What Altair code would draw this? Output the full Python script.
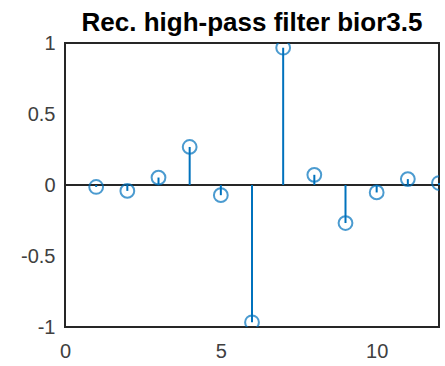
import altair as alt
import pandas as pd

# Reconstruction high-pass filter coefficients of the bior3.5 wavelet
taps = [1, 2, 3, 4, 5, 6, 7, 8, 9, 10, 11, 12]
coeffs = [-0.0138, -0.0414, 0.0525, 0.2679, -0.0718, -0.9667,
          0.9667, 0.0718, -0.2679, -0.0525, 0.0414, 0.0138]
x_ticks = [0, 5, 10]
y_ticks = [-1, -0.5, 0, 0.5, 1]
x_range = [0, 12]
y_range = [-1, 1]

df = pd.DataFrame({"n": taps, "h": coeffs, "zero": [0.0] * len(taps)})
base_df = pd.DataFrame({"x0": [x_range[0]], "x1": [x_range[1]], "y": [0.0]})
box_df = pd.DataFrame({"x0": [x_range[0]], "x1": [x_range[1]],
                       "y0": [y_range[0]], "y1": [y_range[1]]})

BLUE = "#0072BD"
AXIS = "#262626"
FONT = "Liberation Sans"

xs = alt.Scale(domain=x_range, nice=False, zero=False)
ys = alt.Scale(domain=y_range, nice=False)

# plain hyphen for negative tick labels
label_expr = "datum.value < 0 ? '-' + format(-datum.value, '~g') : format(datum.value, '~g')"

x_axis = alt.Axis(values=x_ticks, title=None, grid=False, ticks=False, domain=False,
                  labelFontSize=20, labelColor="#404040", labelFont=FONT,
                  labelPadding=14, labelFlush=False, labelExpr=label_expr)
y_axis = alt.Axis(values=y_ticks, title=None, grid=False, ticks=False, domain=False,
                  labelFontSize=20, labelColor="#404040", labelFont=FONT,
                  labelPadding=10, labelExpr=label_expr)

# axes box
frame = alt.Chart(box_df).mark_rect(fill=None, stroke=AXIS, strokeWidth=2).encode(
    x=alt.X("x0:Q", scale=xs, axis=x_axis),
    x2="x1:Q",
    y=alt.Y("y0:Q", scale=ys, axis=y_axis),
    y2="y1:Q",
)

baseline = alt.Chart(base_df).mark_rule(color=AXIS, strokeWidth=2).encode(
    x=alt.X("x0:Q", scale=xs),
    x2="x1:Q",
    y=alt.Y("y:Q", scale=ys),
)

stems = alt.Chart(df).mark_rule(color=BLUE, strokeWidth=2).encode(
    x=alt.X("n:Q", scale=xs),
    y=alt.Y("zero:Q", scale=ys),
    y2="h:Q",
)

heads = alt.Chart(df).mark_point(
    shape="circle", filled=False, color=BLUE, size=190, strokeWidth=2, clip=True
).encode(
    x=alt.X("n:Q", scale=xs),
    y=alt.Y("h:Q", scale=ys),
)

chart = (
    alt.layer(frame, baseline, stems, heads)
    .properties(
        width=374,
        height=284,
        autosize=alt.AutoSizeParams(type="none"),
        padding={"left": 65, "top": 43, "right": 6, "bottom": 39},
        title=alt.TitleParams(
            "Rec. high-pass filter bior3.5",
            font=FONT, fontSize=26, fontWeight="bold", color="#000000",
            anchor="middle", offset=-3,
        ),
    )
    .configure_view(stroke=None)
    .configure(background="white")
)

chart.save("out.html", embed_options={"renderer": "svg", "actions": False})
